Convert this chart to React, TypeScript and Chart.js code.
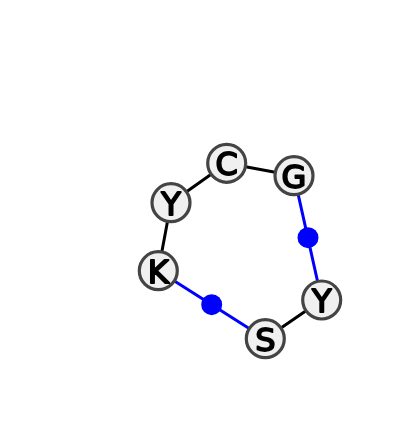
import React, { useEffect, useRef } from 'react';
import { Chart, Plugin, registerables } from 'chart.js';

Chart.register(...registerables);

// residues going round the ring
const residues = ['G', 'C', 'Y', 'K', 'S', 'Y'];
const residueX = [294, 226.7, 171, 158.3, 265.3, 321.7];
const residueY = [175.7, 163.3, 202.7, 270.7, 338.7, 300];

// links as pairs of residue indexes
const plainLinks = [[0, 1], [1, 2], [2, 3], [4, 5]];
const bridgeLinks = [[0, 5], [3, 4]];

// blue junctions sitting on the bridge links
const junctionX = [308, 211.7];
const junctionY = [237.7, 304.7];

const linkPoints = (links: number[][]) =>
  links.flatMap(([a, b]) => [
    { x: residueX[a], y: residueY[a] },
    { x: residueX[b], y: residueY[b] },
    { x: NaN, y: NaN },
  ]);

const residueLabels: Plugin<'scatter'> = {
  id: 'residueLabels',
  afterDatasetsDraw(chart) {
    const { ctx, scales } = chart;
    ctx.save();
    ctx.fillStyle = '#000000';
    ctx.strokeStyle = '#000000';
    ctx.lineWidth = 1.8;
    ctx.lineJoin = 'round';
    ctx.font = '32px "DejaVu Sans"';
    ctx.textAlign = 'center';
    ctx.textBaseline = 'alphabetic';
    residues.forEach((name, i) => {
      const px = scales.x.getPixelForValue(residueX[i]);
      const py = scales.y.getPixelForValue(residueY[i]) + 12;
      ctx.fillText(name, px, py);
      ctx.strokeText(name, px, py);
    });
    ctx.restore();
  },
};

export default function App() {
  const canvasRef = useRef<HTMLCanvasElement>(null);

  useEffect(() => {
    if (!canvasRef.current) return;
    const chart = new Chart(canvasRef.current, {
      type: 'scatter',
      data: {
        datasets: [
          {
            data: residueX.map((x, i) => ({ x, y: residueY[i] })),
            pointRadius: 19,
            pointBorderWidth: 3.2,
            pointBackgroundColor: '#f0f0f0',
            pointBorderColor: '#444444',
            showLine: false,
            order: 1,
          },
          {
            data: junctionX.map((x, i) => ({ x, y: junctionY[i] })),
            pointRadius: 10.5,
            pointBorderWidth: 0,
            pointBackgroundColor: '#0000ff',
            showLine: false,
            order: 2,
          },
          {
            data: linkPoints(bridgeLinks),
            showLine: true,
            spanGaps: false,
            borderColor: '#0000ff',
            borderWidth: 3,
            pointRadius: 0,
            order: 3,
          },
          {
            data: linkPoints(plainLinks),
            showLine: true,
            spanGaps: false,
            borderColor: '#000000',
            borderWidth: 3,
            pointRadius: 0,
            order: 4,
          },
        ],
      },
      options: {
        responsive: false,
        animation: false,
        devicePixelRatio: 1,
        layout: { padding: 0, autoPadding: false },
        plugins: {
          legend: { display: false },
          tooltip: { enabled: false },
        },
        scales: {
          x: { type: 'linear', display: false, min: 0, max: 400 },
          y: { type: 'linear', display: false, min: 0, max: 423, reverse: true },
        },
      },
      plugins: [residueLabels],
    });

    return () => chart.destroy();
  }, []);

  return (
    <div style={{ position: 'absolute', left: 0, top: 0, width: 400, height: 423, background: '#ffffff' }}>
      <canvas ref={canvasRef} width={400} height={423} style={{ display: 'block', width: '400px', height: '423px' }} />
    </div>
  );
}
